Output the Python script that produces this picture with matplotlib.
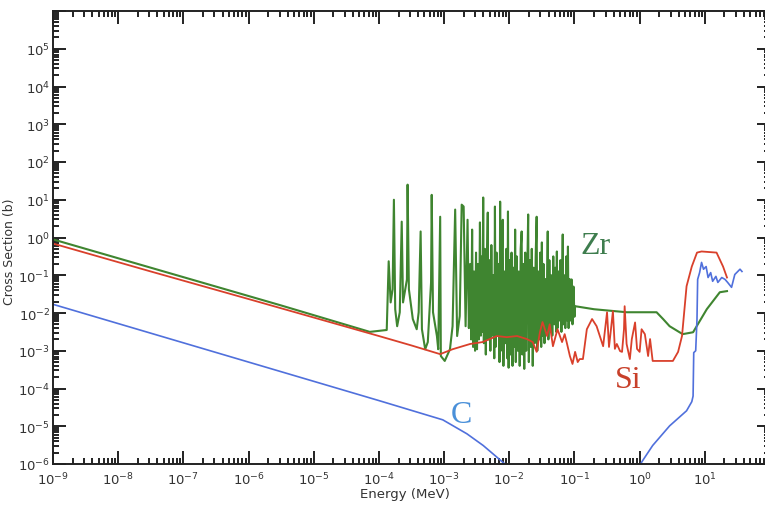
import numpy as np
import matplotlib
matplotlib.use('Agg')
import matplotlib.pyplot as plt
from matplotlib.ticker import LogLocator, NullFormatter

# log10(E / MeV) and log10(sigma / b)
si_logE = [-9.0, -7.5, -6.0, -5.0, -4.0, -3.5, -3.06, -2.87, -2.60, -2.41, -2.30,
           -2.19, -2.04, -1.88, -1.73, -1.64, -1.58, -1.53, -1.49, -1.42, -1.38,
           -1.33, -1.26, -1.19, -1.15, -1.12, -1.07, -1.03, -0.99, -0.95, -0.92,
           -0.87, -0.81, -0.73, -0.66, -0.56, -0.53, -0.50, -0.47, -0.44, -0.41,
           -0.38, -0.35, -0.30, -0.27, -0.24, -0.23, -0.20, -0.15, -0.12, -0.07,
           -0.04, 0.00, 0.03, 0.08, 0.13, 0.16, 0.20, 0.51, 0.59, 0.65, 0.72,
           0.80, 0.88, 0.95, 1.18, 1.28, 1.34]
si_logxs = [-0.16, -0.90, -1.63, -2.12, -2.61, -2.86, -3.09, -2.96, -2.82, -2.77, -2.69,
            -2.61, -2.64, -2.61, -2.69, -2.77, -3.03, -2.51, -2.24, -2.61, -2.30,
            -2.88, -2.43, -2.77, -2.56, -2.77, -3.14, -3.35, -3.03, -3.30, -3.22,
            -3.22, -2.43, -2.16, -2.35, -2.88, -2.43, -1.98, -2.90, -2.43, -1.95,
            -2.95, -2.82, -3.01, -3.03, -2.43, -1.82, -2.82, -3.22, -2.69, -2.25,
            -2.95, -3.03, -2.43, -2.56, -3.14, -2.69, -3.27, -3.27, -3.03, -2.61, -1.29,
            -0.77, -0.40, -0.37, -0.40, -0.77, -1.06]

zr_logE = [-9.00, -7.00, -5.50, -4.14, -3.88, -3.85, -3.82, -3.79, -3.77, -3.75, -3.72,
           -3.68, -3.65, -3.63, -3.57, -3.56, -3.54, -3.48, -3.42, -3.39, -3.36,
           -3.34, -3.29, -3.25, -3.20, -3.19, -3.17, -3.11, -3.09, -3.06, -3.05,
           -2.99, -2.91, -2.87, -2.83, -2.80, -2.76, -2.73, -2.70, -2.67,
           -2.64, -2.62, -2.60, -2.585, -2.57, -2.555, -2.54, -2.525, -2.51, -2.495,
           -2.48, -2.465, -2.45, -2.435, -2.42, -2.41, -2.40, -2.39, -2.375, -2.36,
           -2.345, -2.33, -2.32, -2.305, -2.29, -2.275, -2.26, -2.245, -2.23, -2.22,
           -2.21, -2.195, -2.18, -2.165, -2.15, -2.14, -2.13, -2.115, -2.10, -2.09,
           -2.075, -2.06, -2.045, -2.03, -2.02, -2.01, -1.995, -1.98, -1.965, -1.95,
           -1.935, -1.92, -1.91, -1.90, -1.885, -1.87, -1.855, -1.84, -1.825, -1.81,
           -1.80, -1.785, -1.77, -1.755, -1.74, -1.725, -1.71, -1.70, -1.685, -1.67,
           -1.655, -1.64, -1.625, -1.61, -1.595, -1.58, -1.57, -1.555, -1.54, -1.525,
           -1.51, -1.50, -1.49, -1.475, -1.46, -1.445, -1.43, -1.41, -1.40, -1.385,
           -1.37, -1.355, -1.34, -1.325, -1.31, -1.295, -1.28, -1.27, -1.26, -1.245,
           -1.23, -1.215, -1.20, -1.18, -1.17, -1.155, -1.14, -1.125, -1.11, -1.10,
           -1.09, -1.075, -1.06, -1.045, -1.03, -1.015, -1.00,
           -0.99, -0.70, -0.20, 0.26, 0.36, 0.46, 0.66, 0.82, 1.03, 1.23, 1.34]
zr_logxs = [-0.05, -1.05, -1.80, -2.50, -2.45, -0.63, -1.72, -1.37, 1.00, -1.90, -2.35,
            -1.98, 0.42, -1.72, -1.11, 1.40, -1.37, -2.16, -2.43, -1.98, 0.16,
            -2.43, -2.96, -2.77, -1.19, 1.13, -1.98, -2.61, -2.96, 0.55, -3.14,
            -3.27, -2.96, -2.35, 0.74, -2.61, -2.08, 0.87, 0.82, -2.35,
            0.47, -2.40, -0.70, -2.70, 0.21, -2.90, -0.90, -3.00, -0.40, -2.96,
            -0.70, -2.70, 0.40, -2.60, -0.50, -2.50, 1.06, -2.80, -0.30, -3.10,
            -0.80, 0.66, -2.70, -0.60, -3.00, -0.20, -2.60, -1.00, -3.20, 0.82,
            -2.90, -0.40, -2.60, -0.70, -3.30, 0.95, -3.00, -0.50, 0.47, -3.40,
            -0.90, -2.80, -0.30, -3.20, 0.69, -3.45, -0.60, -3.10, -0.40, -3.40,
            -0.80, -2.90, 0.21, -3.30, -0.50, -3.00, -0.90, -3.40, -0.30, 0.16,
            -3.10, -0.70, -3.48, -0.40, -3.00, -1.00, 0.61, -3.30, -0.60, -2.90,
            -0.30, -3.40, -0.80, -2.80, -0.50, 0.55, -3.00, -0.90, -2.70, -0.40,
            -2.90, -0.13, -2.60, -0.70, -2.80, -1.10, -2.50, 0.16, -2.70, -0.60,
            -2.40, -1.00, -2.60, -0.50, -2.30, -0.80, -2.50, -0.37, -2.40, -0.90,
            -2.20, -0.60, -2.50, 0.08, -2.30, -1.00, -2.40, -0.50, -2.20, -0.24,
            -2.40, -1.10, -2.20, -1.11, -2.30, -1.30, -2.10,
            -1.82, -1.90, -1.98, -1.98, -2.16, -2.35, -2.56, -2.51, -1.90, -1.45, -1.42]

c_logE = [-9.0, -8.0, -7.0, -6.0, -5.0, -4.0, -3.02, -2.65, -2.40, -2.04, -1.95,
          np.nan, 0.0, 0.05, 0.20, 0.46, 0.72, 0.80, 0.82, 0.83, 0.86, 0.88, 0.89,
          0.92, 0.95, 0.98, 1.02, 1.05, 1.09, 1.12, 1.17, 1.20, 1.26, 1.31, 1.35,
          1.41, 1.46, 1.54, 1.57]
c_logxs = [-1.77, -2.28, -2.79, -3.30, -3.81, -4.32, -4.83, -5.20, -5.51, -6.04, -6.2,
           np.nan, -6.04, -5.90, -5.51, -4.99, -4.59, -4.35, -4.20, -3.05, -3.00, -2.16, -1.11,
           -0.93, -0.66, -0.84, -0.77, -1.06, -0.93, -1.16, -1.03, -1.19, -1.06, -1.11, -1.19,
           -1.32, -0.98, -0.84, -0.90]

x_exps = list(range(-9, 3))
y_exps = list(range(-6, 7))

fig = plt.figure(figsize=(7.65, 5.06), dpi=100)
ax = fig.add_axes([53 / 765, 1 - 465 / 506, 717 / 765, 453 / 506])

ax.plot(10.0 ** np.array(zr_logE), 10.0 ** np.array(zr_logxs), color='#3f8530', lw=1.5)
ax.plot(10.0 ** np.array(si_logE), 10.0 ** np.array(si_logxs), color='#d9402b', lw=1.3)
ax.plot(10.0 ** np.array(c_logE), 10.0 ** np.array(c_logxs), color='#5070dc', lw=1.2)

ax.set_xscale('log')
ax.set_yscale('log')
ax.set_xlim(1e-9, 1e2)
ax.set_ylim(1e-6, 1e6)

ax.set_xticks([10.0 ** k for k in x_exps])
ax.set_xticklabels(['$10^{%d}$' % k if k < 2 else '' for k in x_exps])
ax.set_yticks([10.0 ** k for k in y_exps])
ax.set_yticklabels(['$10^{%d}$' % k if k < 6 else '' for k in y_exps])
for axis in (ax.xaxis, ax.yaxis):
    axis.set_minor_locator(LogLocator(base=10, subs=np.arange(2, 10), numticks=40))
    axis.set_minor_formatter(NullFormatter())

ax.tick_params(which='both', direction='in', top=True, right=True,
               color='#222222', width=1.4, labelsize=9.5, labelcolor='#333333')
ax.tick_params(which='major', length=9.5)
ax.tick_params(which='minor', length=4.5)
ax.tick_params(axis='x', pad=5)
ax.tick_params(axis='y', pad=2)
for sp in ax.spines.values():
    sp.set_linewidth(1.4)
    sp.set_color('#222222')

ax.set_xlabel('Energy (MeV)', fontsize=9.5, color='#333333')
ax.xaxis.set_label_coords((405 - 53) / 717, -(488 - 465) / 453)
ax.set_ylabel('Cross Section (b)', fontsize=9, color='#333333')
ax.yaxis.set_label_coords(-(53 - 16) / 717, 1 - (252 - 12) / 453)

ax.text(10 ** -0.68, 10 ** -0.20, 'Zr', color='#3e7d4e', fontsize=23,
        family='Liberation Serif', ha='center', va='center')
ax.text(10 ** -0.18, 10 ** -3.77, 'Si', color='#c8402a', fontsize=23,
        family='Liberation Serif', ha='center', va='center')
ax.text(10 ** -2.74, 10 ** -4.70, 'C', color='#4a90d9', fontsize=23,
        family='Liberation Serif', ha='center', va='center')

fig.savefig('out.png', dpi=100)
